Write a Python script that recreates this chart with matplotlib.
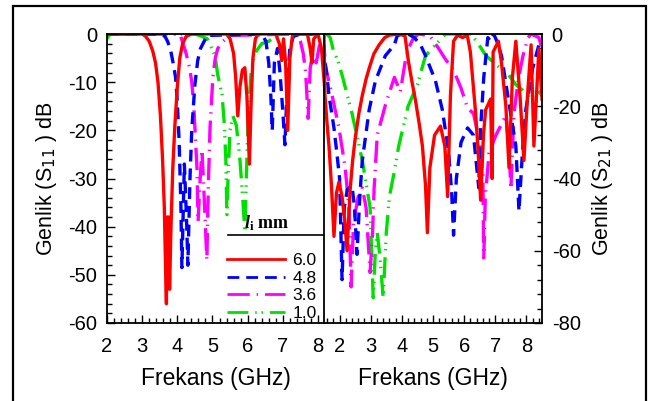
import matplotlib.pyplot as plt
from matplotlib.patches import Rectangle
from matplotlib.lines import Line2D
from matplotlib.ticker import MultipleLocator

plt.rcParams['font.family'] = ['Liberation Sans', 'DejaVu Sans']
plt.rcParams['lines.scale_dashes'] = False
plt.rcParams['axes.unicode_minus'] = False
# serif bold for the legend heading only (used through math_fontfamily='custom')
plt.rcParams['mathtext.it'] = 'Liberation Serif:italic:bold'
plt.rcParams['mathtext.rm'] = 'Liberation Serif:bold'
plt.rcParams['mathtext.bf'] = 'Liberation Serif:bold'

labels = ['6.0', '4.8', '3.6', '1.0']
colors = ['#ff0000', '#0000ff', '#ff00ff', '#00e000']
styles = ['-', (0, (8.5, 5)), (0, (16, 5, 1, 5)), (0, (15, 5, 1, 3.5, 1, 5))]

# S11, left panel (GHz, dB)
s11_f_60 = [2.0, 3.0, 3.1, 3.2, 3.3, 3.38, 3.45, 3.52, 3.58, 3.63, 3.67, 3.69, 3.71, 3.75, 3.78,
            3.82, 3.87, 3.93, 4.0, 4.07, 4.15, 4.25, 4.4, 5.4, 5.5, 5.6, 5.66, 5.72, 5.78, 5.85,
            5.92, 5.98, 6.05, 6.1, 6.15, 6.22, 6.3, 6.8, 6.9, 6.97, 7.02, 7.08, 7.14, 7.2, 7.28,
            7.7, 7.78, 7.83, 7.88, 8.0, 8.1, 8.2]
s11_v_60 = [0, 0, -0.5, -1.5, -3.5, -6, -10, -17, -26, -36, -50, -56, -38, -38, -53,
            -40, -28, -19, -11, -5, -2, -0.5, 0, 0, -1, -4, -9, -17, -11, -7.5,
            -7, -13, -27, -14, -5, -1, 0, 0, -2, -5.5, -1, -6, -20, -5, 0,
            0, -3, -6, -1, 0, -3, -12]

s11_f_48 = [2.0, 3.5, 3.65, 3.72, 3.8, 3.88, 3.95, 3.99, 4.05, 4.1, 4.13, 4.2, 4.26, 4.3, 4.36,
            4.41, 4.5, 4.58, 4.66, 4.73, 4.85, 6.4, 6.52, 6.6, 6.66, 6.7, 6.76, 6.85, 6.92, 7.0,
            7.06, 7.12, 7.2, 7.3, 7.5, 8.2]
s11_v_48 = [0, 0, -0.5, -1.5, -3, -6, -9, -13, -22, -35, -48.5, -27, -38, -48, -30,
            -20, -10.5, -5.5, -3, -2, -0.3, 0, -1.5, -6, -13, -20, -6, -3, -8, -16,
            -23, -12, -3, -0.5, 0, 0]

s11_f_36 = [2.0, 4.0, 4.1, 4.16, 4.23, 4.3, 4.36, 4.41, 4.46, 4.5, 4.56, 4.59, 4.65, 4.7, 4.77,
            4.84, 4.88, 4.93, 5.01, 5.08, 5.15, 5.3, 5.49, 7.4, 7.5, 7.58, 7.65, 7.72, 7.78, 7.85,
            7.95, 8.05, 8.2]
s11_v_36 = [0, 0, -0.5, -2, -3.5, -5.5, -7.5, -10, -14, -19.5, -28, -39, -30, -24, -35,
            -47, -32, -19.5, -9, -5, -3, -1.5, -0.3, 0, -1.5, -4, -8, -17.5, -7, -4,
            -6, -2, -1]

s11_f_10 = [2.0, 2.05, 2.2, 4.5, 4.7, 4.85, 4.95, 5.07, 5.15, 5.27, 5.33, 5.38, 5.41, 5.45, 5.5,
            5.58, 5.68, 5.78, 5.86, 5.92, 5.97, 6.02, 6.1, 6.2, 6.4, 6.6, 6.9, 8.2]
s11_v_10 = [-1, -0.2, 0, 0, -0.5, -1, -2.5, -4.5, -8.5, -12.5, -18, -26, -37.5, -28, -20,
            -17, -19, -26, -34, -41, -28, -16, -8, -4, -2, -1.5, 0, 0]

# S21, right panel (GHz, dB)
s21_f_60 = [1.5, 1.53, 1.6, 1.66, 1.74, 1.82, 1.9, 1.98, 2.08, 2.17, 2.24, 2.34, 2.42, 2.5, 2.62,
            2.73, 2.85, 2.95, 3.1, 3.27, 3.45, 3.6, 3.9, 4.1, 4.21, 4.32, 4.44, 4.56, 4.66, 4.76,
            4.82, 4.9, 5.05, 5.24, 5.38, 5.47, 5.56, 5.66, 5.79, 5.95, 6.1, 6.2, 6.27, 6.36, 6.44,
            6.53, 6.62, 6.69, 6.85, 6.9, 6.93, 7.1, 7.2, 7.34, 7.44, 7.55, 7.66, 7.8, 7.92, 8.05,
            8.15, 8.24, 8.4, 8.5]
s21_v_60 = [-1, -17, -25, -31, -42, -56, -44, -41, -45, -52, -60, -43, -35, -29, -22,
            -17, -12.5, -9.5, -5.5, -3, -1, -0.3, 0, -0.5, -7.5, -13, -18.5, -25, -31, -42,
            -55, -37, -28, -25.5, -31, -45, -17, -2, -0.3, -1, -0.3, -5, -12, -21, -31,
            -46, -28, -21, -18, -40, -5, -2, -8, -20, -37, -12, -2, -18, -35, -15,
            -3, -31, -4, -18]

s21_f_48 = [1.5, 1.53, 1.6, 1.66, 1.82, 1.92, 2.0, 2.08, 2.15, 2.25, 2.4, 2.48, 2.56, 2.65, 2.73,
            2.95, 3.15, 3.47, 3.76, 3.85, 4.0, 4.2, 4.4, 4.6, 4.76, 5.08, 5.3, 5.5, 5.6, 5.66,
            5.75, 5.9, 6.11, 6.3, 6.47, 6.53, 6.63, 6.76, 6.85, 6.95, 7.05, 7.2, 7.4, 7.66, 7.76,
            7.87, 7.98, 8.2, 8.4, 8.5]
s21_v_48 = [-3, -7.5, -12, -17, -26, -33.5, -40, -68, -48, -43, -42, -48, -61, -45, -35,
            -21, -13, -6, -3, -0.5, 0, 0, -1, -3, -6, -13, -21, -32.5, -44, -55.7,
            -40, -30, -26, -28, -42.6, -26, -12, -1, -2, 0, -2, -6, -17, -31, -49,
            -33, -21, -9.5, -3, -2]

s21_f_36 = [1.5, 1.6, 1.76, 1.98, 2.18, 2.3, 2.37, 2.45, 2.6, 2.73, 2.85, 2.98, 3.06, 3.11, 3.21,
            3.47, 3.76, 3.95, 4.1, 4.21, 4.35, 4.53, 4.9, 5.18, 5.4, 5.66, 5.9, 6.11, 6.3, 6.5,
            6.6, 6.63, 6.68, 6.8, 7.02, 7.2, 7.34, 7.45, 7.5, 7.6, 7.75, 7.89, 8.05, 8.15, 8.4,
            8.5]
s21_v_36 = [-7, -11, -17, -26, -37, -48, -70, -52, -45, -42.6, -48, -66, -55, -42.6, -28,
            -19.7, -12, -16, -8, -4, -1.5, 0, -0.5, -4, -7, -10, -15, -20.5, -22, -30,
            -39, -62, -45, -33, -28, -25, -22.4, -33, -43, -22, -12, -6, -1, 0, -1,
            -4]

s21_f_10 = [1.5, 1.6, 1.7, 1.8, 1.95, 2.1, 2.4, 2.73, 2.98, 3.08, 3.15, 3.21, 3.3, 3.4, 3.5,
            3.6, 3.76, 3.9, 4.2, 4.5, 4.76, 5.08, 5.4, 6.2, 6.4, 6.7, 7.1, 7.4, 7.66, 8.08,
            8.3, 8.5]
s21_v_10 = [-0.5, 0, -1, -4.5, -7.5, -12, -22, -35, -48, -73, -60, -55, -62, -73, -55,
            -45, -38, -31, -20, -14, -6, -3, 0, 0, -2, -6, -9, -11, -14, -17,
            -15, -17]

s11_f = [s11_f_60, s11_f_48, s11_f_36, s11_f_10]
s11_v = [s11_v_60, s11_v_48, s11_v_36, s11_v_10]
s21_f = [s21_f_60, s21_f_48, s21_f_36, s21_f_10]
s21_v = [s21_v_60, s21_v_48, s21_v_36, s21_v_10]

fig = plt.figure(figsize=(6.62, 4.01), dpi=100)
ax1 = fig.add_axes([107 / 662, 1 - 323 / 401, 218 / 662, 289 / 401])
ax2 = fig.add_axes([324 / 662, 1 - 323 / 401, 218 / 662, 289 / 401])

# reverse order so the 6.0 curve ends up on top
for i in range(3, -1, -1):
    ax1.plot(s11_f[i], s11_v[i], color=colors[i], linestyle=styles[i], lw=2.4)
    ax2.plot(s21_f[i], s21_v[i], color=colors[i], linestyle=styles[i], lw=2.4)

ax1.set_xlim(2, 8.2)
ax1.set_ylim(-60, 0)
ax2.set_xlim(1.5, 8.5)
ax2.set_ylim(-80, 0)

for ax in (ax1, ax2):
    ax.xaxis.set_major_locator(MultipleLocator(1))
    ax.xaxis.set_minor_locator(MultipleLocator(0.2))
    ax.tick_params(which='both', direction='in', labelsize=14.5, top=False, pad=7)
    ax.tick_params(axis='x', which='both', pad=10)
    ax.tick_params(which='major', length=6, width=1)
    ax.tick_params(which='minor', length=3.5, width=1)
    for sp in ax.spines.values():
        sp.set_linewidth(1.3)
    ax.set_xlabel('Frekans (GHz)', fontsize=16.5, labelpad=8)

ax1.yaxis.set_major_locator(MultipleLocator(10))
ax1.yaxis.set_minor_locator(MultipleLocator(2))
ax1.tick_params(axis='y', which='both', left=True, right=False)
ax1.set_ylabel('Genlik (S$_{11}$ ) dB', fontsize=15.5, labelpad=7)

ax2.yaxis.set_major_locator(MultipleLocator(20))
ax2.yaxis.set_minor_locator(MultipleLocator(4))
ax2.yaxis.tick_right()
ax2.yaxis.set_label_position('right')
ax2.tick_params(axis='y', which='both', left=False, right=True, labelleft=False, labelright=True)
ax2.set_ylabel('Genlik (S$_{21}$ ) dB', fontsize=15.5, labelpad=7)

# legend with the "l_i mm" heading and the rule under it
handles = [Line2D([], [], color=colors[i], linestyle=styles[i], lw=2.0) for i in range(4)]
ax1.legend(handles, labels, loc='lower right', bbox_to_anchor=(1.01, -0.03),
           frameon=False, fontsize=12.5, handlelength=3.3, handletextpad=0.45,
           labelspacing=0.15, borderaxespad=0.2)
ax1.text(0.63, 0.312, r'$\mathit{l}_{\mathrm{i}}\ \mathrm{mm}$', transform=ax1.transAxes,
         ha='left', va='bottom', fontsize=13, math_fontfamily='custom')
ax1.add_line(Line2D([0.555, 1.0], [0.304, 0.304], transform=ax1.transAxes, color='black', lw=1.2))

fig.patches.append(Rectangle((13 / 662, -0.01), 633 / 662, 1.01 - 6 / 401, transform=fig.transFigure,
                             fill=False, edgecolor='black', lw=1.6))

fig.savefig('out.png', dpi=100)
